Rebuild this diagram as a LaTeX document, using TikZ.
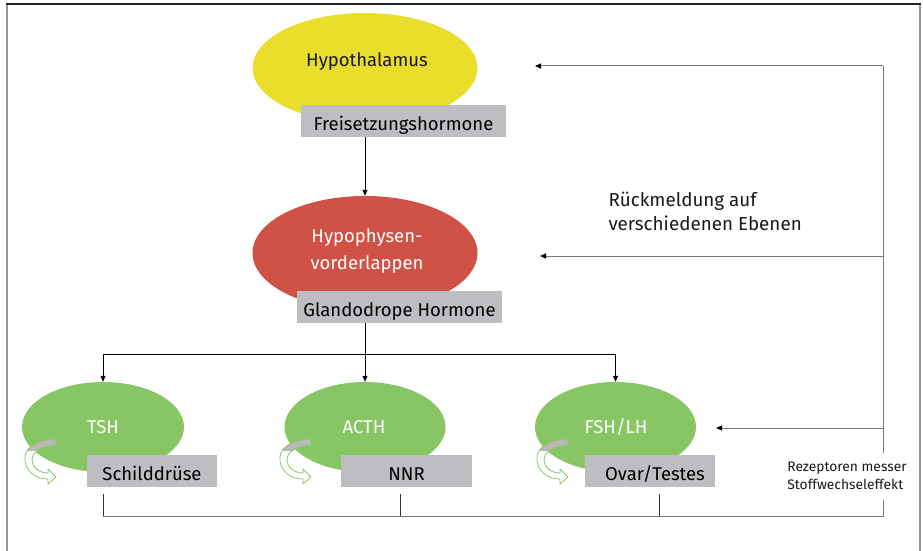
\documentclass[tikz,border=0pt]{standalone}
\usepackage{fontspec}
\setmainfont{Fira Sans}
\usetikzlibrary{arrows.meta,shapes.geometric}
\definecolor{cyel}{RGB}{233,222,44}
\definecolor{cred}{RGB}{208,81,70}
\definecolor{cgreen}{RGB}{136,198,101}
\definecolor{cbox}{RGB}{189,190,193}
\definecolor{ccurl}{RGB}{185,185,185}
\definecolor{cline}{RGB}{120,120,120}
\definecolor{cframe}{RGB}{150,150,150}
\newcommand\mycurl[1]{%
 \begin{scope}[shift={(#1)}]
  \fill[white] (-48,12) .. controls (-68,13) and (-80,22) .. (-78,34) .. controls (-76,46) and (-66,52) .. (-55,52) -- (-55,57) -- (-47,50) -- (-55,42) -- (-55,46) .. controls (-64,46) and (-71,40) .. (-71,33) .. controls (-71,25) and (-62,19) .. (-48,18) -- cycle;
  \begin{scope}
   \clip (-90,0) rectangle (-40,23);
   \fill[ccurl] (-48,12) .. controls (-68,13) and (-80,22) .. (-78,34) .. controls (-76,46) and (-66,52) .. (-55,52) -- (-55,57) -- (-47,50) -- (-55,42) -- (-55,46) .. controls (-64,46) and (-71,40) .. (-71,33) .. controls (-71,25) and (-62,19) .. (-48,18) -- cycle;
  \end{scope}
  \draw[cgreen, line width=0.8pt, line join=round] (-48,12) .. controls (-68,13) and (-80,22) .. (-78,34) .. controls (-76,46) and (-66,52) .. (-55,52) -- (-55,57) -- (-47,50) -- (-55,42) -- (-55,46) .. controls (-64,46) and (-71,40) .. (-71,33) .. controls (-71,25) and (-62,19) .. (-48,18);
 \end{scope}}
\begin{document}
\begin{tikzpicture}[x=1pt,y=-1pt,
  ell/.style={ellipse, inner sep=0pt},
  gbox/.style={fill=cbox, inner sep=0pt, minimum height=32pt, text height=19pt, text depth=0pt, font=\fontsize{18.5}{22}\selectfont},
  lbl/.style={font=\fontsize{18.5}{22}\selectfont},
  arr/.style={line width=1pt, -{Triangle[length=6pt,width=5pt]}},
  garr/.style={cline, line width=1pt, -{Triangle[length=6pt,width=5pt,fill=black,color=black]}},
  gline/.style={cline, line width=1pt}]
\useasboundingbox (0,0) rectangle (923,551);
% frame
\draw[cframe, line width=1.6pt] (7,4) -- (7,551);
\draw[cframe, line width=2pt] (920,4) -- (920,551);
\draw[black!85, line width=1.5pt] (6,4) -- (921,4);

% Hypothalamus
\node[ell, fill=cyel, minimum width=225pt, minimum height=110pt] (hyp) at (365,68) {};
\node[lbl, text=black!90] (hyptxt) at (367,62) {Hypothalamus};
\node[gbox, minimum width=205pt] (fh) at (403.5,121) {Freisetzungshormone};

% Hypophyse
\node[ell, fill=cred, minimum width=225pt, minimum height=114pt] (hypo) at (365,253) {};
\node[lbl, text=white, align=center, font=\fontsize{18.5}{27}\selectfont] (hypotxt) at (367,251) {Hypophysen-\\vorderlappen};
\node[gbox, minimum width=205pt] (gh) at (399.5,307) {Glandodrope Hormone};

\draw[arr] (hyp.center |- fh.south) -- (hypo.north);

% green level
\node[ell, fill=cgreen, minimum width=162pt, minimum height=90pt] (tsh) at (103,427) {};
\node[ell, fill=cgreen, minimum width=161pt, minimum height=90pt] (acth) at (365,427) {};
\node[ell, fill=cgreen, minimum width=161pt, minimum height=90pt] (fsh) at (615.5,427) {};
\node[lbl, text=white] (tshtxt) at (103,427) {TSH};
\node[lbl, text=white] (acthtxt) at (364,427) {ACTH};
\node[lbl, text=white] (fshtxt) at (616,427) {FSH/LH};

\mycurl{103,427}
\mycurl{358,427}
\mycurl{615,427}

\node[gbox, minimum width=130pt] (sd) at (152,471) {Schilddrüse};
\node[gbox, minimum width=131pt] (nnr) at (406.5,471) {NNR};
\node[gbox, minimum width=130pt] (ov) at (650,471) {\hspace{10pt}Ovar/Testes};

% branching
\coordinate (br) at (366,354);
\draw[arr] (hypo.center |- gh.south) -- (acth.north);
\draw[line width=1pt] (tsh.north |- br) -- (fsh.north |- br);
\draw[arr] (tsh.north |- br) -- (tsh.north);
\draw[arr] (fsh.north |- br) -- (fsh.north);

% bottom collection
\coordinate (c1t) at (103,494);
\coordinate (c1b) at (103,516);
\coordinate (c2t) at (400,494);
\coordinate (c2b) at (400,516);
\coordinate (c3t) at (659,494);
\coordinate (c3b) at (659,516);
\coordinate (rb) at (883,516);
\coordinate (rt1) at (883,500);
\draw[black!80, line width=1pt] (c1t) -- (c1b);
\draw[black!80, line width=1pt] (c2t) -- (c2b);
\draw[black!80, line width=1pt] (c3t) -- (c3b);
\draw[gline] (c1b) -- (rb) -- (rt1);

\node[font=\fontsize{13.8}{18}\selectfont, align=left, text=black!90] (rez) at (847,476) {Rezeptoren messer\\Stoffwechseleffekt};

% feedback
\coordinate (fb0) at (883,453);
\coordinate (fbA) at (883,66);
\coordinate (fbB) at (883,256);
\coordinate (fbC) at (883,428);
\coordinate (tA) at (535,66);
\coordinate (tB) at (540,256);
\coordinate (tC) at (716,428);
\draw[gline] (fb0) -- (fbA);
\draw[garr] (fbA) -- (tA);
\draw[garr] (fbB) -- (tB);
\draw[garr] (fbC) -- (tC);

\node[font=\fontsize{18.8}{24}\selectfont, align=left, anchor=west, text=black!90] (rm) at (605,211) {Rückmeldung auf\\verschiedenen Ebenen};
\end{tikzpicture}
\end{document}
